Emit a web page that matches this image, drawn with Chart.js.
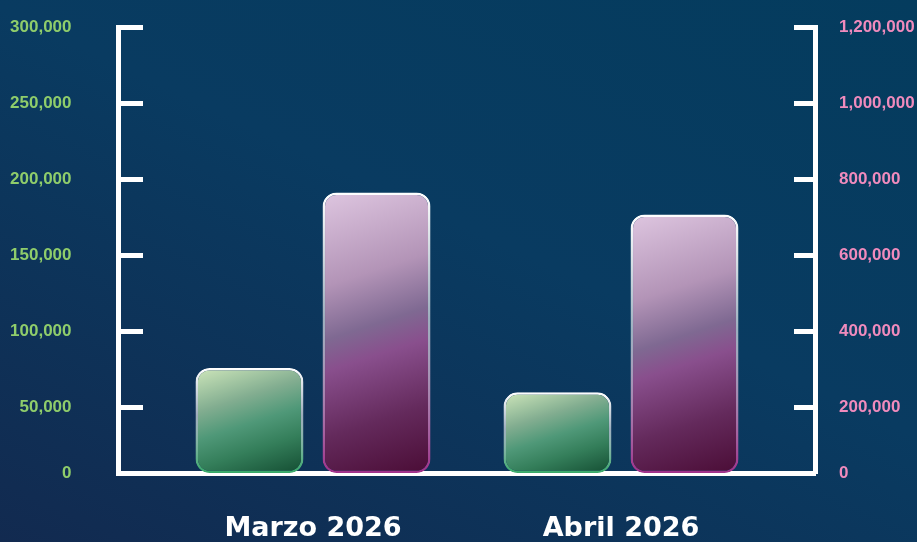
<!DOCTYPE html>
<html>
<head>
<meta charset="utf-8">
<script src="https://cdn.jsdelivr.net/npm/chart.js@4.4.1/dist/chart.umd.min.js"></script>
<style>
  html, body { margin: 0; padding: 0; }
  body {
    width: 917px; height: 542px; overflow: hidden;
    background: linear-gradient(205deg, #043c5e 0%, #093b61 45%, #122a50 100%);
  }
  #wrap { position: relative; width: 917px; height: 542px; }
</style>
</head>
<body>
<div id="wrap"><canvas id="chart"></canvas></div>
<script>
const categories = ['Marzo 2026', 'Abril 2026'];
const greenValues = [76000, 60000];      // left axis
const purpleValues = [766000, 708000];   // right axis

const leftTicks = [0, 50000, 100000, 150000, 200000, 250000, 300000];
const rightTicks = [0, 200000, 400000, 600000, 800000, 1000000, 1200000];

// the bottom "0" sits a bit above where a linear 0 would be, so the axes start slightly above zero
const LEFT_MIN = 6600;
const RIGHT_MIN = 26400;

const CAT_PCT = 0.825;
const BAR_PCT = 0.85;

const greenStops = [[0, '#cfe7bb'], [0.32, '#82ad90'], [0.52, '#4f9878'], [0.72, '#347e5a'], [1, '#134c31']];
const purpleStops = [[0, '#dec6e0'], [0.3, '#b394b7'], [0.47, '#7f6992'], [0.57, '#894f8d'], [0.78, '#642a5c'], [1, '#4a0c35']];

const fmt = (v) => v.toLocaleString('en-US');

function barBox(c) {
  const chart = c.chart;
  const ds = chart.data.datasets[c.datasetIndex];
  const yScale = chart.scales[ds.yAxisID];
  const xScale = chart.scales.x;
  const step = xScale.getPixelForValue(1) - xScale.getPixelForValue(0);
  const chunk = step * CAT_PCT / 2;
  const cx = xScale.getPixelForValue(c.parsed.x) + (c.datasetIndex - 0.5) * chunk;
  const w = chunk * BAR_PCT;
  return {
    left: cx - w / 2, right: cx + w / 2,
    top: yScale.getPixelForValue(c.parsed.y),
    bottom: yScale.getPixelForValue(yScale.min)
  };
}

function fillGradient(stops) {
  return (c) => {
    if (c.type !== 'data' || !c.chart.chartArea) return stops[2][1];
    const b = barBox(c);
    const w = b.right - b.left, h = b.bottom - b.top;
    const a = 18 * Math.PI / 180;
    const dx = Math.sin(a), dy = Math.cos(a);
    const len = h * dy + w * dx;
    const mx = (b.left + b.right) / 2, my = (b.top + b.bottom) / 2;
    const g = c.chart.ctx.createLinearGradient(mx - dx * len / 2, my - dy * len / 2, mx + dx * len / 2, my + dy * len / 2);
    stops.forEach(([p, col]) => g.addColorStop(p, col));
    return g;
  };
}

function borderGradient(bottomColor) {
  return (c) => {
    if (c.type !== 'data' || !c.chart.chartArea) return '#ffffff';
    const b = barBox(c);
    const g = c.chart.ctx.createLinearGradient(0, b.top, 0, b.bottom);
    g.addColorStop(0, 'rgba(255,255,255,1)');
    g.addColorStop(0.45, 'rgba(255,255,255,0.6)');
    g.addColorStop(1, bottomColor);
    return g;
  };
}

// short white tick marks drawn inward from each y axis line
const innerTicks = {
  id: 'innerTicks',
  afterDraw(chart) {
    const ctx = chart.ctx;
    ctx.save();
    ctx.strokeStyle = '#ffffff';
    ctx.lineWidth = 5;
    ['y', 'y1'].forEach((id) => {
      const s = chart.scales[id];
      s.ticks.forEach((t, i) => {
        if (i === 0) return;
        const py = s.getPixelForValue(t.value);
        ctx.beginPath();
        if (id === 'y') {
          ctx.moveTo(s.right - 2.5, py);
          ctx.lineTo(s.right + 24.5, py);
        } else {
          ctx.moveTo(s.left + 2.5, py);
          ctx.lineTo(s.left - 21.5, py);
        }
        ctx.stroke();
      });
    });
    ctx.restore();
  }
};

const tickFont = { family: '"Liberation Sans", Arial, sans-serif', size: 17, weight: 'bold' };

// invisible outer tick marks only push the labels away from the axis line
const hiddenGrid = (len) => ({ display: true, drawOnChartArea: false, drawTicks: true, tickLength: len, tickColor: 'rgba(0,0,0,0)' });

new Chart(document.getElementById('chart'), {
  type: 'bar',
  data: {
    datasets: [
      {
        label: 'Verde',
        data: greenValues.map((v, i) => ({ x: i, y: v })),
        yAxisID: 'y',
        base: LEFT_MIN,
        backgroundColor: fillGradient(greenStops),
        borderColor: borderGradient('#33a765'),
        borderWidth: 2.5,
        borderRadius: 14,
        borderSkipped: false,
        categoryPercentage: CAT_PCT,
        barPercentage: BAR_PCT
      },
      {
        label: 'Morado',
        data: purpleValues.map((v, i) => ({ x: i, y: v })),
        yAxisID: 'y1',
        base: RIGHT_MIN,
        backgroundColor: fillGradient(purpleStops),
        borderColor: borderGradient('#a0308a'),
        borderWidth: 2.5,
        borderRadius: 14,
        borderSkipped: false,
        categoryPercentage: CAT_PCT,
        barPercentage: BAR_PCT
      }
    ]
  },
  options: {
    responsive: true,
    maintainAspectRatio: false,
    animation: false,
    layout: { padding: { top: 27.5, left: 0, right: 0, bottom: 0 } },
    plugins: { legend: { display: false }, tooltip: { enabled: false } },
    scales: {
      x: {
        type: 'linear',
        offset: false,
        min: -0.6315,
        max: 1.6315,
        afterBuildTicks: (axis) => { axis.ticks = categories.map((_, i) => ({ value: i })); },
        afterFit: (axis) => { axis.height = 68.5; },
        grid: { display: false, drawTicks: false },
        border: { display: true, color: '#ffffff', width: 5 },
        ticks: {
          color: '#ffffff',
          padding: 39,
          font: { family: '"DejaVu Sans", "Open Sans", sans-serif', size: 27, weight: 'bold' },
          callback: (v, i) => categories[i]
        }
      },
      y: {
        position: 'left',
        min: LEFT_MIN,
        max: 300000,
        afterBuildTicks: (axis) => { axis.ticks = leftTicks.map((v) => ({ value: Math.max(v, axis.min) })); },
        afterFit: (axis) => { axis.width = 118.5; },
        grid: hiddenGrid(47),
        border: { display: true, color: '#ffffff', width: 5 },
        ticks: { color: '#8fcd6b', padding: 0, font: tickFont, callback: (v, i) => fmt(leftTicks[i]) }
      },
      y1: {
        position: 'right',
        min: RIGHT_MIN,
        max: 1200000,
        afterBuildTicks: (axis) => { axis.ticks = rightTicks.map((v) => ({ value: Math.max(v, axis.min) })); },
        afterFit: (axis) => { axis.width = 101.5; },
        grid: hiddenGrid(23.5),
        border: { display: true, color: '#ffffff', width: 5 },
        ticks: { color: '#f08bbd', padding: 0, font: tickFont, callback: (v, i) => fmt(rightTicks[i]) }
      }
    }
  },
  plugins: [innerTicks]
});
</script>
</body>
</html>
